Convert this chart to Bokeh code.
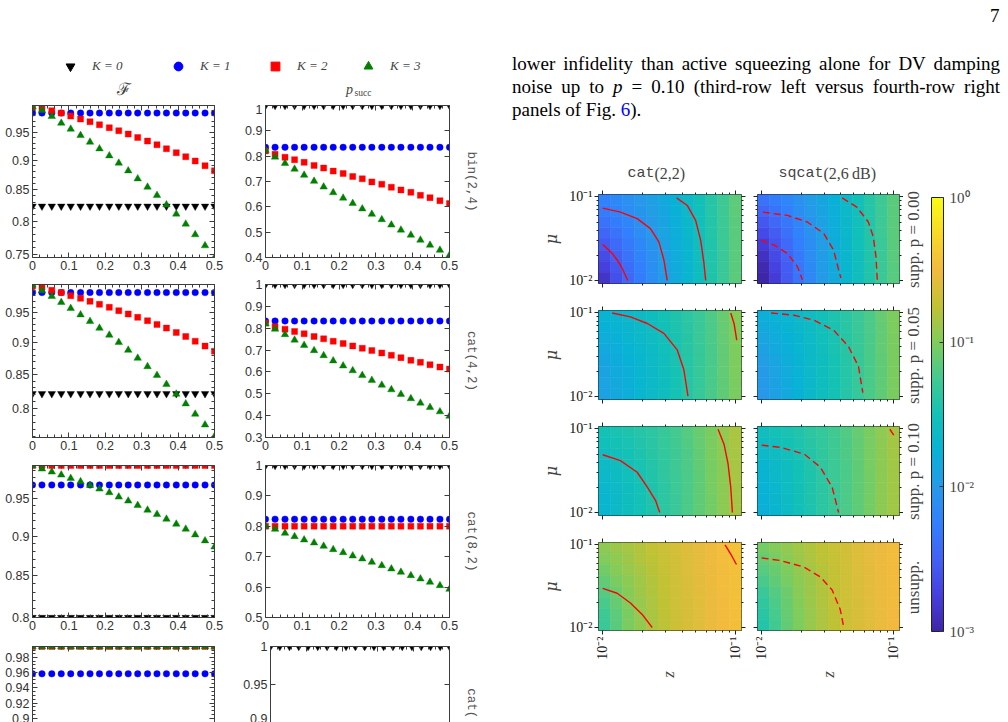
import math
import numpy as np
from bokeh.plotting import figure
from bokeh.layouts import row, column
from bokeh.models import (Range1d, LinearAxis, LogAxis, FixedTicker, CustomJSTickFormatter, Label,
                          Legend, LegendItem, LinearColorMapper, ColorBar, Div, ColumnDataSource)
from bokeh.transform import linear_cmap
from bokeh.embed import file_html
from bokeh.resources import INLINE

# ======================= DATA: left panels (fidelity / success probability) =======================
p_noise = [0.0, 0.026, 0.053, 0.079, 0.105, 0.132, 0.158, 0.184, 0.211, 0.237,
           0.263, 0.289, 0.316, 0.342, 0.368, 0.395, 0.421, 0.447, 0.474, 0.5]
K_labels = ["K = 0", "K = 1", "K = 2", "K = 3"]
code_labels = ["bin(2,4)", "cat(4,2)", "cat(8,2)", "cat("]

# bin(2,4)
fid_bin24_K0 = [0.8235, 0.8235, 0.8235, 0.8235, 0.8235, 0.8235, 0.8235, 0.8235, 0.8235, 0.8235,
                0.8235, 0.8235, 0.8235, 0.8235, 0.8235, 0.8235, 0.8235, 0.8235, 0.8235, 0.8235]
fid_bin24_K1 = [0.9855, 0.9855, 0.9855, 0.9855, 0.9855, 0.9855, 0.9855, 0.9855, 0.9855, 0.9855,
                0.9855, 0.9855, 0.9855, 0.9855, 0.9855, 0.9855, 0.9855, 0.9855, 0.9855, 0.9855]
fid_bin24_K2 = [0.997, 0.9951, 0.9900, 0.9855, 0.9798, 0.9742, 0.9692, 0.9636, 0.9580, 0.9525,
                0.9464, 0.9403, 0.9337, 0.9271, 0.9200, 0.9130, 0.9060, 0.8985, 0.8904, 0.8818]
fid_bin24_K3 = [0.998, 0.9906, 0.9792, 0.9667, 0.9556, 0.9440, 0.9319, 0.9200, 0.9077, 0.8950,
                0.8818, 0.8683, 0.8545, 0.8409, 0.8259, 0.8113, 0.7958, 0.7796, 0.7632, 0.7456]
psucc_bin24_K0 = [1.0, 1.0, 1.0, 1.0, 1.0, 1.0, 1.0, 1.0, 1.0, 1.0,
                  1.0, 1.0, 1.0, 1.0, 1.0, 1.0, 1.0, 1.0, 1.0, 1.0]
psucc_bin24_K1 = [0.835, 0.835, 0.835, 0.835, 0.835, 0.835, 0.835, 0.835, 0.835, 0.835,
                  0.835, 0.835, 0.835, 0.835, 0.835, 0.835, 0.835, 0.835, 0.835, 0.835]
psucc_bin24_K2 = [0.8207, 0.8074, 0.7955, 0.7862, 0.7756, 0.7636, 0.7530, 0.7410, 0.7317, 0.7198,
                  0.7105, 0.6985, 0.6892, 0.6773, 0.6667, 0.6574, 0.6454, 0.6361, 0.6242, 0.6135]
psucc_bin24_K3 = [0.8234, 0.7968, 0.7716, 0.7490, 0.7251, 0.7012, 0.6786, 0.6561, 0.6348, 0.6135,
                  0.5923, 0.5710, 0.5498, 0.5286, 0.5086, 0.4887, 0.4688, 0.4489, 0.4290, 0.4090]

# cat(4,2)
fid_cat42_K0 = [0.8213, 0.8213, 0.8213, 0.8213, 0.8213, 0.8213, 0.8213, 0.8213, 0.8213, 0.8213,
                0.8213, 0.8213, 0.8213, 0.8213, 0.8213, 0.8213, 0.8213, 0.8213, 0.8213, 0.8213]
fid_cat42_K1 = [0.9855, 0.9855, 0.9855, 0.9855, 0.9855, 0.9855, 0.9855, 0.9855, 0.9855, 0.9855,
                0.9855, 0.9855, 0.9855, 0.9855, 0.9855, 0.9855, 0.9855, 0.9855, 0.9855, 0.9855]
fid_cat42_K2 = [0.997, 0.9950, 0.9896, 0.9855, 0.9801, 0.9754, 0.9701, 0.9649, 0.9597, 0.9539,
                0.9482, 0.9425, 0.9368, 0.9306, 0.9244, 0.9172, 0.9106, 0.9029, 0.8949, 0.8867]
fid_cat42_K3 = [0.999, 0.9890, 0.9790, 0.9684, 0.9579, 0.9470, 0.9357, 0.9244, 0.9129, 0.9009,
                0.8884, 0.8757, 0.8626, 0.8491, 0.8354, 0.8208, 0.8066, 0.7917, 0.7765, 0.7605]
psucc_cat42_K0 = [1.0, 1.0, 1.0, 1.0, 1.0, 1.0, 1.0, 1.0, 1.0, 1.0,
                  1.0, 1.0, 1.0, 1.0, 1.0, 1.0, 1.0, 1.0, 1.0, 1.0]
psucc_cat42_K1 = [0.833, 0.833, 0.833, 0.833, 0.833, 0.833, 0.833, 0.833, 0.833, 0.833,
                  0.833, 0.833, 0.833, 0.833, 0.833, 0.833, 0.833, 0.833, 0.833, 0.833]
psucc_cat42_K2 = [0.8234, 0.8065, 0.7958, 0.7850, 0.7743, 0.7620, 0.7513, 0.7405, 0.7298, 0.7190,
                  0.7083, 0.6975, 0.6868, 0.6761, 0.6653, 0.6530, 0.6438, 0.6330, 0.6223, 0.6131]
psucc_cat42_K3 = [0.820, 0.796, 0.771, 0.746, 0.722, 0.698, 0.675, 0.651, 0.628, 0.606,
                  0.584, 0.562, 0.540, 0.519, 0.498, 0.478, 0.458, 0.438, 0.418, 0.398]

# cat(8,2)
fid_cat82_K0 = [0.800, 0.800, 0.800, 0.800, 0.800, 0.800, 0.800, 0.800, 0.800, 0.800,
                0.800, 0.800, 0.800, 0.800, 0.800, 0.800, 0.800, 0.800, 0.800, 0.800]
fid_cat82_K1 = [0.969, 0.969, 0.969, 0.969, 0.969, 0.969, 0.969, 0.969, 0.969, 0.969,
                0.969, 0.969, 0.969, 0.969, 0.969, 0.969, 0.969, 0.969, 0.969, 0.969]
fid_cat82_K2 = [0.9966, 0.9966, 0.9966, 0.9966, 0.9966, 0.9966, 0.9966, 0.9966, 0.9966, 0.9966,
                0.9966, 0.9966, 0.9966, 0.9966, 0.9966, 0.9966, 0.9966, 0.9966, 0.9966, 0.9966]
fid_cat82_K3 = [0.9966, 0.9917, 0.9874, 0.9831, 0.9784, 0.9737, 0.9685, 0.9634, 0.9583, 0.9523,
                0.9468, 0.9408, 0.9344, 0.9286, 0.9223, 0.9157, 0.9091, 0.9016, 0.8939, 0.8860]
psucc_cat82_K0 = [1.0, 1.0, 1.0, 1.0, 1.0, 1.0, 1.0, 1.0, 1.0, 1.0,
                  1.0, 1.0, 1.0, 1.0, 1.0, 1.0, 1.0, 1.0, 1.0, 1.0]
psucc_cat82_K1 = [0.8235, 0.8235, 0.8235, 0.8235, 0.8235, 0.8235, 0.8235, 0.8235, 0.8235, 0.8235,
                  0.8235, 0.8235, 0.8235, 0.8235, 0.8235, 0.8235, 0.8235, 0.8235, 0.8235, 0.8235]
psucc_cat82_K2 = [0.8004, 0.8004, 0.8004, 0.8004, 0.8004, 0.8004, 0.8004, 0.8004, 0.8004, 0.8004,
                  0.8004, 0.8004, 0.8004, 0.8004, 0.8004, 0.8004, 0.8004, 0.8004, 0.8004, 0.8004]
psucc_cat82_K3 = [0.8004, 0.7906, 0.7774, 0.7664, 0.7554, 0.7456, 0.7346, 0.7237, 0.7138, 0.7028,
                  0.6930, 0.6820, 0.6711, 0.6601, 0.6491, 0.6382, 0.6272, 0.6162, 0.6053, 0.5932]

# fourth row (cut off by the page edge)
fid_row4_K1 = [0.958, 0.958, 0.958, 0.958, 0.958, 0.958, 0.958, 0.958, 0.958, 0.958,
               0.958, 0.958, 0.958, 0.958, 0.958, 0.958, 0.958, 0.958, 0.958, 0.958]
fid_row4_K2 = [0.995, 0.995, 0.995, 0.995, 0.995, 0.995, 0.995, 0.995, 0.995, 0.995,
               0.995, 0.995, 0.995, 0.995, 0.995, 0.995, 0.995, 0.995, 0.995, 0.995]
fid_row4_K3 = [0.995, 0.995, 0.995, 0.995, 0.995, 0.995, 0.995, 0.995, 0.995, 0.995,
               0.995, 0.995, 0.995, 0.995, 0.995, 0.995, 0.995, 0.995, 0.995, 0.995]
psucc_row4_K0 = [1.0, 1.0, 1.0, 1.0, 1.0, 1.0, 1.0, 1.0, 1.0, 1.0,
                 1.0, 1.0, 1.0, 1.0, 1.0, 1.0, 1.0, 1.0, 1.0, 1.0]

# ======================= DATA: right heatmaps (log10 infidelity) =======================
z_edges = [0.009400, 0.011541, 0.014167, 0.017401, 0.021364, 0.026237, 0.032211,
           0.039556, 0.048585, 0.059650, 0.073246, 0.089912, 0.110408]
mu_edges = [0.009200, 0.012503, 0.016989, 0.023086, 0.031374, 0.042639, 0.057943, 0.078741, 0.107000]
col_titles = [("cat", "(2,2)"), ("sqcat", "(2,6\u2009dB)")]
row_titles = ["supp. p = 0.00", "supp. p = 0.05", "supp. p = 0.10", "unsupp."]

# rows listed from top (largest mu) to bottom (smallest mu); 12 z-columns each
loginf_cat_p000 = [
    [-2.22, -2.16, -2.09, -2.02, -1.94, -1.85, -1.75, -1.64, -1.52, -1.40, -1.27, -1.14],
    [-2.28, -2.21, -2.13, -2.05, -1.96, -1.87, -1.76, -1.65, -1.53, -1.40, -1.27, -1.14],
    [-2.36, -2.27, -2.18, -2.09, -1.99, -1.89, -1.78, -1.66, -1.54, -1.41, -1.28, -1.15],
    [-2.45, -2.35, -2.24, -2.13, -2.02, -1.91, -1.79, -1.67, -1.54, -1.41, -1.28, -1.15],
    [-2.55, -2.42, -2.30, -2.17, -2.05, -1.93, -1.80, -1.68, -1.55, -1.42, -1.28, -1.15],
    [-2.65, -2.50, -2.35, -2.21, -2.08, -1.95, -1.82, -1.69, -1.55, -1.42, -1.29, -1.15],
    [-2.75, -2.57, -2.40, -2.24, -2.10, -1.96, -1.83, -1.69, -1.56, -1.42, -1.29, -1.16],
    [-2.85, -2.63, -2.44, -2.27, -2.12, -1.97, -1.83, -1.70, -1.56, -1.43, -1.29, -1.16]]
loginf_sqcat_p000 = [
    [-2.35, -2.27, -2.18, -2.08, -1.98, -1.87, -1.76, -1.64, -1.52, -1.40, -1.27, -1.15],
    [-2.45, -2.35, -2.24, -2.13, -2.01, -1.89, -1.77, -1.65, -1.53, -1.40, -1.28, -1.15],
    [-2.56, -2.44, -2.31, -2.18, -2.05, -1.92, -1.79, -1.66, -1.53, -1.41, -1.28, -1.16],
    [-2.67, -2.52, -2.37, -2.22, -2.08, -1.94, -1.80, -1.67, -1.54, -1.41, -1.28, -1.16],
    [-2.78, -2.60, -2.43, -2.26, -2.11, -1.96, -1.81, -1.68, -1.54, -1.41, -1.29, -1.16],
    [-2.88, -2.68, -2.48, -2.30, -2.13, -1.97, -1.82, -1.68, -1.55, -1.42, -1.29, -1.16],
    [-2.96, -2.74, -2.52, -2.32, -2.15, -1.98, -1.83, -1.69, -1.55, -1.42, -1.29, -1.17],
    [-3.00, -2.78, -2.55, -2.34, -2.16, -1.99, -1.84, -1.69, -1.55, -1.42, -1.29, -1.17]]
loginf_cat_p005 = [
    [-1.72, -1.69, -1.65, -1.61, -1.56, -1.50, -1.44, -1.37, -1.29, -1.20, -1.10, -0.99],
    [-1.76, -1.72, -1.68, -1.63, -1.58, -1.52, -1.45, -1.38, -1.30, -1.21, -1.11, -1.00],
    [-1.80, -1.76, -1.71, -1.65, -1.59, -1.53, -1.46, -1.39, -1.30, -1.21, -1.11, -1.00],
    [-1.84, -1.79, -1.73, -1.67, -1.61, -1.54, -1.47, -1.39, -1.31, -1.22, -1.12, -1.01],
    [-1.87, -1.81, -1.75, -1.69, -1.62, -1.55, -1.47, -1.40, -1.31, -1.22, -1.12, -1.01],
    [-1.89, -1.83, -1.77, -1.70, -1.63, -1.55, -1.48, -1.40, -1.31, -1.22, -1.12, -1.01],
    [-1.91, -1.85, -1.78, -1.71, -1.63, -1.56, -1.48, -1.40, -1.32, -1.23, -1.13, -1.02],
    [-1.92, -1.86, -1.79, -1.71, -1.64, -1.56, -1.48, -1.40, -1.32, -1.23, -1.13, -1.02]]
loginf_sqcat_p005 = [
    [-1.78, -1.74, -1.69, -1.64, -1.58, -1.52, -1.45, -1.38, -1.30, -1.21, -1.11, -1.01],
    [-1.83, -1.78, -1.72, -1.66, -1.60, -1.53, -1.46, -1.38, -1.30, -1.21, -1.12, -1.01],
    [-1.88, -1.82, -1.75, -1.69, -1.62, -1.54, -1.47, -1.39, -1.31, -1.22, -1.12, -1.02],
    [-1.92, -1.85, -1.78, -1.71, -1.63, -1.55, -1.47, -1.39, -1.31, -1.22, -1.12, -1.02],
    [-1.96, -1.88, -1.80, -1.72, -1.64, -1.56, -1.48, -1.40, -1.31, -1.22, -1.13, -1.02],
    [-1.99, -1.90, -1.82, -1.73, -1.65, -1.57, -1.48, -1.40, -1.32, -1.23, -1.13, -1.03],
    [-2.01, -1.92, -1.83, -1.74, -1.66, -1.57, -1.49, -1.40, -1.32, -1.23, -1.13, -1.03],
    [-2.02, -1.93, -1.84, -1.75, -1.66, -1.57, -1.49, -1.40, -1.32, -1.23, -1.13, -1.03]]
loginf_cat_p010 = [
    [-1.50, -1.47, -1.44, -1.40, -1.36, -1.31, -1.25, -1.18, -1.10, -1.02, -0.93, -0.84],
    [-1.54, -1.50, -1.47, -1.42, -1.38, -1.32, -1.26, -1.19, -1.11, -1.03, -0.94, -0.84],
    [-1.58, -1.54, -1.50, -1.45, -1.39, -1.33, -1.27, -1.20, -1.12, -1.03, -0.94, -0.85],
    [-1.62, -1.57, -1.52, -1.47, -1.41, -1.34, -1.27, -1.20, -1.12, -1.04, -0.95, -0.85],
    [-1.65, -1.60, -1.54, -1.48, -1.42, -1.35, -1.28, -1.21, -1.13, -1.04, -0.95, -0.85],
    [-1.67, -1.62, -1.56, -1.49, -1.43, -1.36, -1.28, -1.21, -1.13, -1.04, -0.95, -0.86],
    [-1.69, -1.63, -1.57, -1.50, -1.43, -1.36, -1.29, -1.21, -1.13, -1.05, -0.95, -0.86],
    [-1.70, -1.64, -1.57, -1.51, -1.44, -1.36, -1.29, -1.21, -1.13, -1.05, -0.96, -0.86]]
loginf_sqcat_p010 = [
    [-1.55, -1.51, -1.47, -1.42, -1.37, -1.32, -1.26, -1.19, -1.11, -1.03, -0.94, -0.86],
    [-1.60, -1.55, -1.50, -1.45, -1.39, -1.33, -1.27, -1.20, -1.12, -1.04, -0.95, -0.86],
    [-1.65, -1.59, -1.53, -1.47, -1.41, -1.34, -1.27, -1.20, -1.12, -1.04, -0.95, -0.86],
    [-1.69, -1.63, -1.56, -1.49, -1.42, -1.35, -1.28, -1.21, -1.13, -1.04, -0.95, -0.87],
    [-1.72, -1.65, -1.58, -1.51, -1.43, -1.36, -1.28, -1.21, -1.13, -1.05, -0.96, -0.87],
    [-1.74, -1.67, -1.59, -1.52, -1.44, -1.36, -1.29, -1.21, -1.13, -1.05, -0.96, -0.87],
    [-1.76, -1.68, -1.60, -1.52, -1.44, -1.37, -1.29, -1.21, -1.13, -1.05, -0.96, -0.87],
    [-1.77, -1.69, -1.61, -1.53, -1.45, -1.37, -1.29, -1.21, -1.14, -1.05, -0.96, -0.87]]
loginf_cat_unsupp = [
    [-0.95, -0.90, -0.85, -0.80, -0.75, -0.70, -0.65, -0.60, -0.56, -0.52, -0.48, -0.44],
    [-1.00, -0.94, -0.88, -0.82, -0.77, -0.71, -0.66, -0.61, -0.57, -0.52, -0.48, -0.44],
    [-1.06, -0.98, -0.91, -0.85, -0.78, -0.72, -0.67, -0.62, -0.57, -0.53, -0.49, -0.45],
    [-1.12, -1.03, -0.95, -0.87, -0.80, -0.74, -0.68, -0.63, -0.58, -0.53, -0.49, -0.45],
    [-1.18, -1.07, -0.98, -0.89, -0.82, -0.75, -0.69, -0.63, -0.58, -0.54, -0.49, -0.45],
    [-1.23, -1.11, -1.00, -0.91, -0.83, -0.76, -0.69, -0.64, -0.59, -0.54, -0.50, -0.45],
    [-1.27, -1.14, -1.02, -0.92, -0.84, -0.76, -0.70, -0.64, -0.59, -0.54, -0.50, -0.46],
    [-1.30, -1.16, -1.03, -0.93, -0.84, -0.77, -0.70, -0.64, -0.59, -0.54, -0.50, -0.46]]
loginf_sqcat_unsupp = [
    [-1.05, -0.99, -0.93, -0.87, -0.81, -0.76, -0.71, -0.66, -0.61, -0.57, -0.53, -0.49],
    [-1.11, -1.04, -0.97, -0.90, -0.83, -0.77, -0.72, -0.67, -0.62, -0.57, -0.53, -0.49],
    [-1.17, -1.09, -1.01, -0.93, -0.86, -0.79, -0.73, -0.68, -0.62, -0.58, -0.53, -0.50],
    [-1.23, -1.13, -1.04, -0.95, -0.88, -0.81, -0.74, -0.68, -0.63, -0.58, -0.54, -0.50],
    [-1.29, -1.18, -1.07, -0.97, -0.89, -0.82, -0.75, -0.69, -0.63, -0.58, -0.54, -0.50],
    [-1.34, -1.21, -1.10, -0.99, -0.90, -0.82, -0.75, -0.69, -0.64, -0.59, -0.54, -0.50],
    [-1.38, -1.24, -1.11, -1.00, -0.91, -0.83, -0.76, -0.70, -0.64, -0.59, -0.54, -0.51],
    [-1.41, -1.26, -1.12, -1.01, -0.91, -0.83, -0.76, -0.70, -0.64, -0.59, -0.54, -0.51]]

# red contour lines (z, mu)
cat_p000_c1_z = [0.0101, 0.0109, 0.0119, 0.01296, 0.01413, 0.01556]
cat_p000_c1_mu = [0.0270, 0.0242, 0.0211, 0.0176, 0.01403, 0.0100]
cat_p000_c2_z = [0.0101, 0.01372, 0.0183, 0.0230, 0.0266, 0.0290, 0.0307]
cat_p000_c2_mu = [0.0735, 0.0658, 0.0550, 0.0418, 0.0290, 0.0176, 0.0100]
cat_p000_c3_z = [0.0361, 0.0434, 0.0501, 0.0546, 0.0578, 0.0596]
cat_p000_c3_mu = [0.0976, 0.0791, 0.0525, 0.0304, 0.0161, 0.0100]
sq_p000_c1_z = [0.0100, 0.01257, 0.0158, 0.0188, 0.0205]
sq_p000_c1_mu = [0.0304, 0.0265, 0.0211, 0.01465, 0.0102]
sq_p000_c2_z = [0.0103, 0.0158, 0.0223, 0.0297, 0.0352, 0.0384, 0.0400]
sq_p000_c2_mu = [0.0658, 0.0601, 0.0501, 0.0365, 0.0231, 0.0134, 0.0107]
sq_p000_c3_z = [0.0408, 0.0527, 0.0643, 0.0701, 0.0734, 0.0751]
sq_p000_c3_mu = [0.0976, 0.0755, 0.0501, 0.0333, 0.0193, 0.0100]
cat_p005_c2_z = [0.0119, 0.0163, 0.0218, 0.0290, 0.0365, 0.0409, 0.0439]
cat_p005_c2_mu = [0.100, 0.0896, 0.0748, 0.0570, 0.0361, 0.0209, 0.0101]
cat_p005_c3_z = [0.0917, 0.0971, 0.1017]
cat_p005_c3_mu = [0.100, 0.0748, 0.0474]
sq_p005_c2_z = [0.0119, 0.0177, 0.0250, 0.0352, 0.0456, 0.0542, 0.0584]
sq_p005_c2_mu = [0.100, 0.0939, 0.0819, 0.0623, 0.0395, 0.0229, 0.0111]
cat_p010_c2_z = [0.0101, 0.01372, 0.0183, 0.0218, 0.0251, 0.0270]
cat_p010_c2_mu = [0.0491, 0.0417, 0.0303, 0.0201, 0.0140, 0.0100]
cat_p010_c3_z = [0.0737, 0.0817, 0.0876, 0.0917, 0.0944]
cat_p010_c3_mu = [0.0992, 0.0658, 0.0381, 0.0201, 0.0100]
sq_p010_c2_z = [0.0101, 0.0141, 0.0211, 0.0280, 0.0343, 0.0384]
sq_p010_c2_mu = [0.0640, 0.0600, 0.0501, 0.0348, 0.0201, 0.0100]
sq_p010_c3_z = [0.0934, 0.1000]
sq_p010_c3_mu = [0.0992, 0.0841]
cat_uns_c1_z = [0.0101, 0.01296, 0.0163, 0.01995, 0.0237]
cat_uns_c1_mu = [0.0298, 0.0260, 0.0198, 0.0144, 0.0100]
cat_uns_c3_z = [0.0832, 0.0917, 0.1012]
cat_uns_c3_mu = [0.1000, 0.0776, 0.0579]
sq_uns_c2_z = [0.0101, 0.0141, 0.0211, 0.0280, 0.0343, 0.0395, 0.0418]
sq_uns_c2_mu = [0.0696, 0.0646, 0.0538, 0.0409, 0.0285, 0.0165, 0.0104]

# ======================= STYLE =======================
MARKERS = [("inverted_triangle", "#000000", 7.5), ("circle", "#0000ff", 6.5),
           ("square", "#ff0000", 6), ("triangle", "#008000", 7.5)]
PARULA_ANCHORS = ["#3e26a8", "#4640e0", "#4361f6", "#3280fd", "#269ae9", "#08b2d6", "#13c1b6",
                  "#42ca91", "#80cc5c", "#c0c234", "#f2ba3f", "#f8d827", "#f9fb15"]


def build_palette(anchors, n=256):
    rgb = np.array([[int(a[i:i + 2], 16) for i in (1, 3, 5)] for a in anchors], dtype=float)
    t = np.linspace(0, 1, len(anchors))
    out = []
    for v in np.linspace(0, 1, n):
        c = [np.interp(v, t, rgb[:, k]) for k in range(3)]
        out.append("#%02x%02x%02x" % tuple(int(round(x)) for x in c))
    return out


PARULA = build_palette(PARULA_ANCHORS)


def num_fmt():
    return CustomJSTickFormatter(code="return String(parseFloat(tick.toFixed(3)));")


def blank_fmt():
    return CustomJSTickFormatter(code="return '';")


def pow_fmt():
    return CustomJSTickFormatter(code="return tick < 0.05 ? '10\u207b\u00b2' : '10\u207b\u00b9';")


def mma_axis(ax, labeled):
    ax.axis_line_color = "#3c3c3c"
    ax.major_tick_line_color = "#3c3c3c"
    ax.minor_tick_line_color = "#3c3c3c"
    ax.major_tick_in = 5
    ax.major_tick_out = 0
    ax.minor_tick_in = 3
    ax.minor_tick_out = 0
    if labeled:
        ax.formatter = num_fmt()
        ax.major_label_text_font = "Liberation Sans"
        ax.major_label_text_font_size = "12.5px"
        ax.major_label_text_color = "#333333"
        ax.major_label_standoff = 3
    else:
        ax.formatter = blank_fmt()
        ax.major_label_text_font_size = "0px"
        ax.major_label_standoff = 0
    return ax


def base_fig(width, height, bl, br, bt, bb, xr, yr, xtype="linear", ytype="linear"):
    p = figure(width=width, height=height, x_range=Range1d(*xr), y_range=Range1d(*yr),
               x_axis_type=xtype, y_axis_type=ytype, x_axis_location=None, y_axis_location=None,
               toolbar_location=None, output_backend="svg",
               min_border_left=bl, min_border_right=br, min_border_top=bt, min_border_bottom=bb)
    p.xgrid.visible = False
    p.ygrid.visible = False
    p.outline_line_color = None
    p.background_fill_color = "white"
    p.border_fill_color = "white"
    return p


def side_panel(kind, width, height, bl, br, bt, bb, yr, yticks, yminor, series, xaxis, side_label=None):
    ylog = (kind == "F")
    p = base_fig(width, height, bl, br, bt, bb, (0, 0.5), yr, ytype="log" if ylog else "linear")
    Ax = LogAxis if ylog else LinearAxis
    xt = FixedTicker(ticks=[0, 0.1, 0.2, 0.3, 0.4, 0.5],
                     minor_ticks=[round(0.02 * i, 2) for i in range(26)])
    p.add_layout(mma_axis(Ax(ticker=FixedTicker(ticks=yticks, minor_ticks=yminor)), True), "left")
    rax = mma_axis(Ax(ticker=FixedTicker(ticks=yticks, minor_ticks=yminor)), False)
    if side_label is not None:
        rax.axis_label = side_label
        rax.axis_label_standoff = 14
        rax.axis_label_text_font = "Liberation Mono"
        rax.axis_label_text_font_style = "normal"
        rax.axis_label_text_font_size = "12.5px"
        rax.axis_label_text_color = "#555555"
    p.add_layout(rax, "right")
    p.add_layout(mma_axis(LinearAxis(ticker=xt), False), "above")
    if xaxis:
        p.add_layout(mma_axis(LinearAxis(ticker=xt), True), "below")
    for k, ys in enumerate(series):
        if ys is None:
            continue
        m, c, s = MARKERS[k]
        p.scatter(p_noise, ys, marker=m, size=s, fill_color=c, line_color=c, line_alpha=0.5,
                  line_width=0.8)
    return p


# ---------------- top strip: legend + column headers ----------------
strip = base_fig(485, 104, 0, 0, 0, 0, (0, 485), (0, 104))
legend_x = [59, 167, 264, 357]
for k, (m, c, s) in enumerate(MARKERS):
    # legend proxy: one point placed outside the visible range
    r = strip.scatter(x=[-1000], y=[-1000], marker=m, size=s, fill_color=c, line_color=c)
    leg = Legend(items=[LegendItem(label=K_labels[k], renderers=[r])], location=(legend_x[k], 27),
                 orientation="horizontal", glyph_width=22, glyph_height=22, label_height=22,
                 label_standoff=11, padding=0, margin=0, border_line_color=None,
                 background_fill_alpha=0, label_text_font="Liberation Serif",
                 label_text_font_style="italic", label_text_font_size="13px")
    strip.add_layout(leg)
strip.add_layout(Label(x=123, y=16, x_units="screen", y_units="screen", text="\u2131",
                       text_align="center", text_baseline="middle", text_font="DejaVu Serif",
                       text_font_size="17px"))
strip.add_layout(Label(x=349, y=15, x_units="screen", y_units="screen", text="p",
                       text_align="center", text_baseline="middle", text_font="Liberation Serif",
                       text_font_style="italic", text_font_size="14px"))
strip.add_layout(Label(x=354, y=12, x_units="screen", y_units="screen", text="succ",
                       text_align="left", text_baseline="middle", text_font="Liberation Serif",
                       text_font_size="9.5px"))

F_minor = [round(0.70 + 0.01 * i, 2) for i in range(31)]
F4_minor = [round(0.885 + 0.005 * i, 3) for i in range(23)]
P_ticks = [0.3, 0.4, 0.5, 0.6, 0.7, 0.8, 0.9, 1.0]

f1 = side_panel("F", 240, 172, 32, 26, 1, 19, (0.746, 1.0), [0.75, 0.8, 0.85, 0.9, 0.95], F_minor,
                [fid_bin24_K0, fid_bin24_K1, fid_bin24_K2, fid_bin24_K3], True)
g1 = side_panel("P", 245, 172, 25, 36, 1, 19, (0.4, 1.0), P_ticks, [],
                [psucc_bin24_K0, psucc_bin24_K1, psucc_bin24_K2, psucc_bin24_K3], True, code_labels[0])
f2 = side_panel("F", 240, 181, 32, 26, 8, 20, (0.759, 1.0), [0.8, 0.85, 0.9, 0.95], F_minor,
                [fid_cat42_K0, fid_cat42_K1, fid_cat42_K2, fid_cat42_K3], True)
g2 = side_panel("P", 245, 181, 25, 36, 8, 20, (0.3, 1.0), P_ticks, [],
                [psucc_cat42_K0, psucc_cat42_K1, psucc_cat42_K2, psucc_cat42_K3], True, code_labels[1])
f3 = side_panel("F", 240, 180, 32, 26, 8, 20, (0.8, 0.9966), [0.8, 0.85, 0.9, 0.95], F_minor,
                [fid_cat82_K0, fid_cat82_K1, fid_cat82_K2, fid_cat82_K3], True)
g3 = side_panel("P", 245, 180, 25, 36, 8, 20, (0.5, 1.0), P_ticks, [],
                [psucc_cat82_K0, psucc_cat82_K1, psucc_cat82_K2, psucc_cat82_K3], True, code_labels[2])
f4 = side_panel("F", 240, 85, 32, 26, 9, 0, (0.8955, 0.995), [0.9, 0.92, 0.94, 0.96, 0.98], F4_minor,
                [None, fid_row4_K1, fid_row4_K2, fid_row4_K3], False)
g4 = side_panel("P", 245, 85, 25, 36, 9, 0, (0.9, 1.0), [0.9, 0.95, 1.0], [],
                [psucc_row4_K0, None, None, None], False,
                "\u00a0\u00a0\u00a0\u00a0\u00a0" + code_labels[3])

left_col = column(strip, row(f1, g1), row(f2, g2), row(f3, g3), row(f4, g4))

# ---------------- right column: text + heatmaps ----------------
para = Div(text="""
<div style="position:relative;width:523px;height:150px;font-family:'Liberation Serif',serif;color:#000;">
 <div style="position:absolute;left:505px;top:2px;font-size:19px;">7</div>
 <div style="position:absolute;left:27px;top:52px;width:488px;font-size:19px;line-height:23px;">
  <div style="text-align:justify;text-align-last:justify;">lower infidelity than active squeezing alone for DV damping</div>
  <div style="text-align:justify;text-align-last:justify;">noise up to <i>p</i> = 0.10 (third-row left versus fourth-row right</div>
  <div>panels of Fig. <span style="color:#0000ff;">6</span>).</div>
 </div>
</div>""", width=523, height=150, margin=0)

mapper = LinearColorMapper(palette=PARULA, low=-3, high=0)

heat_grids = [[loginf_cat_p000, loginf_sqcat_p000],
              [loginf_cat_p005, loginf_sqcat_p005],
              [loginf_cat_p010, loginf_sqcat_p010],
              [loginf_cat_unsupp, loginf_sqcat_unsupp]]
heat_curves = [[[(cat_p000_c1_z, cat_p000_c1_mu), (cat_p000_c2_z, cat_p000_c2_mu), (cat_p000_c3_z, cat_p000_c3_mu)],
                [(sq_p000_c1_z, sq_p000_c1_mu), (sq_p000_c2_z, sq_p000_c2_mu), (sq_p000_c3_z, sq_p000_c3_mu)]],
               [[(cat_p005_c2_z, cat_p005_c2_mu), (cat_p005_c3_z, cat_p005_c3_mu)],
                [(sq_p005_c2_z, sq_p005_c2_mu)]],
               [[(cat_p010_c2_z, cat_p010_c2_mu), (cat_p010_c3_z, cat_p010_c3_mu)],
                [(sq_p010_c2_z, sq_p010_c2_mu), (sq_p010_c3_z, sq_p010_c3_mu)]],
               [[(cat_uns_c1_z, cat_uns_c1_mu), (cat_uns_c3_z, cat_uns_c3_mu)],
                [(sq_uns_c2_z, sq_uns_c2_mu)]]]

ROW_GEOM = [(110, 8, 13), (116, 14, 13), (116, 14, 13), (134, 14, 31)]
COL_GEOM = [(264, 113, 8), (154, 8, 4)]
LOG_MINOR = [0.009, 0.02, 0.03, 0.04, 0.05, 0.06, 0.07, 0.08, 0.09]


def hm_axis(ax, labeled, orient=None):
    ax.axis_line_color = None
    ax.major_tick_line_color = "#222222"
    ax.minor_tick_line_color = "#222222"
    ax.major_tick_in = 0
    ax.major_tick_out = 4
    ax.minor_tick_in = 0
    ax.minor_tick_out = 2
    if labeled:
        ax.formatter = pow_fmt()
        ax.major_label_text_font = "Liberation Serif"
        ax.major_label_text_font_size = "14px"
        ax.major_label_text_color = "#111111"
        ax.major_label_standoff = 2
        if orient is not None:
            ax.major_label_orientation = orient
    else:
        ax.formatter = blank_fmt()
        ax.major_label_text_font_size = "0px"
        ax.major_label_standoff = 0
    return ax


def heat_panel(ri, ci):
    h, bt, bb = ROW_GEOM[ri]
    w, bl, br = COL_GEOM[ci]
    p = base_fig(w, h, bl, br, bt, bb, (0.0094, 0.1104), (0.0092, 0.107), "log", "log")
    p.outline_line_color = "#222222"
    grid = heat_grids[ri][ci]
    L, R, B, T, V = [], [], [], [], []
    nrows = len(grid)
    for rr, vals in enumerate(grid):
        j = nrows - 1 - rr
        for i, v in enumerate(vals):
            L.append(z_edges[i]); R.append(z_edges[i + 1])
            B.append(mu_edges[j]); T.append(mu_edges[j + 1]); V.append(v)
    src = ColumnDataSource(dict(left=L, right=R, bottom=B, top=T, v=V))
    cm = linear_cmap("v", PARULA, -3, 0)
    p.quad(left="left", right="right", bottom="bottom", top="top", source=src,
           fill_color=cm, line_color=cm, line_width=0.6)
    for zz, mm in heat_curves[ri][ci]:
        p.line(zz, mm, line_color="#ff0000", line_width=1.4,
               line_dash="solid" if ci == 0 else "7 4")
    tk = lambda: FixedTicker(ticks=[0.01, 0.1], minor_ticks=LOG_MINOR)
    lax = hm_axis(LogAxis(ticker=tk()), ci == 0)
    if ci == 0:
        lax.axis_label = "\u03bc"
        lax.axis_label_standoff = 5
        lax.axis_label_text_font = "DejaVu Serif"
        lax.axis_label_text_font_style = "italic"
        lax.axis_label_text_font_size = "16px"
    p.add_layout(lax, "left")
    p.add_layout(hm_axis(LogAxis(ticker=tk()), False), "right")
    p.add_layout(hm_axis(LogAxis(ticker=tk()), False), "above")
    p.add_layout(hm_axis(LogAxis(ticker=tk()), ri == 3, math.pi / 2), "below")
    return p


header = base_fig(418, 36, 0, 0, 0, 0, (0, 418), (0, 36))
header.add_layout(Label(x=142, y=13, x_units="screen", y_units="screen", text=col_titles[0][0],
                        text_align="left", text_baseline="middle", text_font="Liberation Mono",
                        text_font_size="15px"))
header.add_layout(Label(x=169, y=13, x_units="screen", y_units="screen", text=col_titles[0][1],
                        text_align="left", text_baseline="middle", text_font="Liberation Serif",
                        text_font_size="16px"))
header.add_layout(Label(x=293, y=13, x_units="screen", y_units="screen", text=col_titles[1][0],
                        text_align="left", text_baseline="middle", text_font="Liberation Mono",
                        text_font_size="15px"))
header.add_layout(Label(x=338, y=13, x_units="screen", y_units="screen", text=col_titles[1][1],
                        text_align="left", text_baseline="middle", text_font="Liberation Serif",
                        text_font_size="16px"))

zstrip = base_fig(418, 60, 0, 0, 0, 0, (0, 418), (0, 60))
for zx in (183, 343):
    zstrip.add_layout(Label(x=zx, y=48, x_units="screen", y_units="screen", text="z", angle=math.pi / 2,
                            text_align="center", text_baseline="middle", text_font="Liberation Serif",
                            text_font_style="italic", text_font_size="17px"))

heat_rows = [row(heat_panel(ri, 0), heat_panel(ri, 1)) for ri in range(4)]
heat_col = column(header, *heat_rows, zstrip)

# colour bar + row titles (row titles read bottom-to-top, right of the second column)
cbar_fig = base_fig(105, 572, 0, 0, 0, 0, (0, 105), (0, 572))
row_title_y = [483, 367, 251, 135]
for ri in range(4):
    cbar_fig.add_layout(Label(x=10, y=row_title_y[ri], x_units="screen", y_units="screen",
                              text=row_titles[ri], angle=math.pi / 2, text_align="center",
                              text_baseline="middle", text_font="Liberation Serif",
                              text_font_size="17px"))
cbar = ColorBar(color_mapper=mapper, width=12, height=434, location=(28, 91), padding=0, margin=0,
                ticker=FixedTicker(ticks=[-3, -2, -1, 0]),
                formatter=CustomJSTickFormatter(code="""
                    const m = {'-3': '10\u207b\u00b3', '-2': '10\u207b\u00b2', '-1': '10\u207b\u00b9', '0': '10\u2070'};
                    return m[String(Math.round(tick))];"""),
                major_tick_in=4, major_tick_out=0, major_tick_line_color="#333333",
                bar_line_color="#222222", border_line_color=None, background_fill_alpha=0,
                major_label_text_font="Liberation Serif", major_label_text_font_size="15px",
                label_standoff=6)
cbar_fig.add_layout(cbar)

right_col = column(para, row(heat_col, cbar_fig))
page = row(left_col, right_col)

open("out.html", "w").write(file_html(page, INLINE))
